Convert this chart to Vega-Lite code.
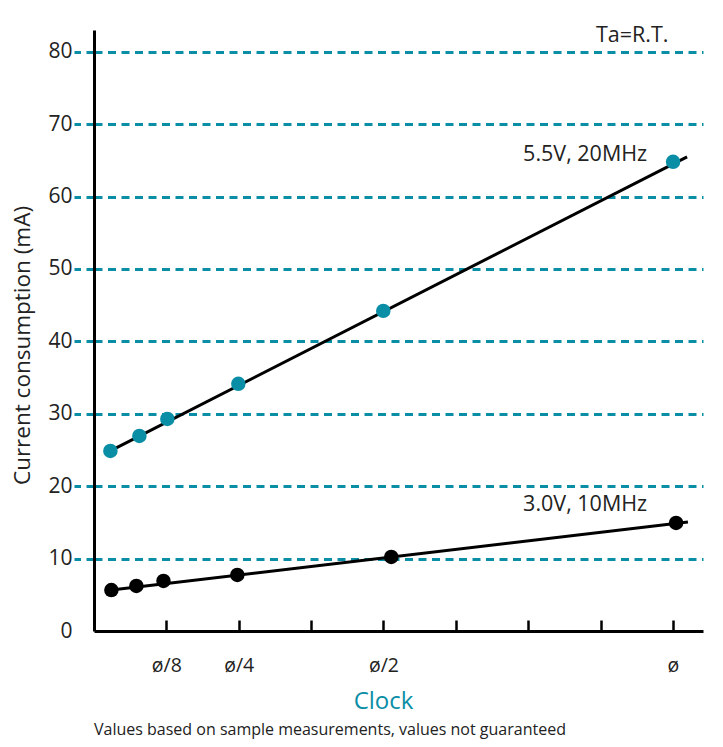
{
  "$schema": "https://vega.github.io/schema/vega-lite/v6.json",
  "width": 609,
  "height": 601,
  "autosize": "none",
  "padding": {"left": 94, "top": 30, "right": 20, "bottom": 116},
  "config": {
    "view": {"stroke": null},
    "font": "Open Sans"
  },
  "title": {
    "text": "Values based on sample measurements, values not guaranteed",
    "orient": "bottom",
    "anchor": "start",
    "frame": "group",
    "font": "Open Sans",
    "fontSize": 16,
    "fontWeight": "normal",
    "color": "#222222",
    "offset": 9
  },
  "datasets": {
    "points": [
      {"series": "5.5V, 20MHz", "clock": 0.0283, "current": 24.87},
      {"series": "5.5V, 20MHz", "clock": 0.0784, "current": 26.94},
      {"series": "5.5V, 20MHz", "clock": 0.1267, "current": 29.29},
      {"series": "5.5V, 20MHz", "clock": 0.2493, "current": 34.13},
      {"series": "5.5V, 20MHz", "clock": 0.4997, "current": 44.21},
      {"series": "5.5V, 20MHz", "clock": 1.0003, "current": 64.8},
      {"series": "3.0V, 10MHz", "clock": 0.030, "current": 5.66},
      {"series": "3.0V, 10MHz", "clock": 0.0732, "current": 6.22},
      {"series": "3.0V, 10MHz", "clock": 0.120, "current": 6.91},
      {"series": "3.0V, 10MHz", "clock": 0.2476, "current": 7.74},
      {"series": "3.0V, 10MHz", "clock": 0.5135, "current": 10.22},
      {"series": "3.0V, 10MHz", "clock": 1.0055, "current": 14.92}
    ],
    "fit": [
      {"series": "5.5V, 20MHz", "clock": 0.0283, "current": 24.87},
      {"series": "5.5V, 20MHz", "clock": 1.0245, "current": 65.49},
      {"series": "3.0V, 10MHz", "clock": 0.030, "current": 5.66},
      {"series": "3.0V, 10MHz", "clock": 1.026, "current": 15.06}
    ],
    "notes": [
      {"label": "Ta=R.T.", "clock": 0.9296, "current": 81.38},
      {"label": "5.5V, 20MHz", "clock": 0.8484, "current": 64.94},
      {"label": "3.0V, 10MHz", "clock": 0.8484, "current": 16.58}
    ]
  },
  "encoding": {
    "x": {
      "field": "clock",
      "type": "quantitative",
      "scale": {"domain": [0, 1.052], "nice": false, "zero": false},
      "axis": {
        "values": [0.125, 0.25, 0.375, 0.5, 0.625, 0.75, 0.875, 1],
        "labelExpr": "datum.value == 0.125 ? 'ø/8' : datum.value == 0.25 ? 'ø/4' : datum.value == 0.5 ? 'ø/2' : datum.value == 1 ? 'ø' : ''",
        "labelOverlap": false,
        "labelFlush": false,
        "domainColor": "#000000",
        "domainWidth": 3,
        "tickColor": "#000000",
        "tickWidth": 2.5,
        "tickSize": -11,
        "grid": false,
        "labelFontSize": 19.5,
        "labelBaseline": "alphabetic",
        "labelPadding": 51,
        "labelColor": "#222222",
        "title": "Clock",
        "titleColor": "#0a8ea6",
        "titleFontSize": 24,
        "titleFontWeight": "normal",
        "titleX": 289,
        "titleY": 77,
        "titleBaseline": "alphabetic"
      }
    },
    "y": {
      "field": "current",
      "type": "quantitative",
      "scale": {"domain": [0, 83], "nice": false},
      "axis": {
        "values": [0, 10, 20, 30, 40, 50, 60, 70, 80],
        "domainColor": "#000000",
        "domainWidth": 3,
        "tickColor": "#0a8ea6",
        "tickWidth": 3,
        "tickSize": 20,
        "tickDash": [8, 5.5],
        "tickOpacity": {"condition": {"test": "datum.value === 0", "value": 0}, "value": 1},
        "grid": true,
        "gridColor": "#0a8ea6",
        "gridWidth": 3,
        "gridDash": [8, 5.5],
        "gridOpacity": {"condition": {"test": "datum.value === 0", "value": 0}, "value": 1},
        "labelFontSize": 21,
        "labelColor": "#222222",
        "labelPadding": 2,
        "title": "Current consumption (mA)",
        "titleFontSize": 22.5,
        "titleFontWeight": "normal",
        "titleColor": "#222222",
        "titleX": -65,
        "titleY": 315,
        "titleBaseline": "alphabetic"
      }
    }
  },
  "layer": [
    {
      "data": {"name": "fit"},
      "mark": {"type": "line", "color": "#000000", "strokeWidth": 3},
      "encoding": {"detail": {"field": "series"}}
    },
    {
      "data": {"name": "points"},
      "mark": {"type": "point", "filled": true, "size": 210, "opacity": 1},
      "encoding": {
        "color": {
          "field": "series",
          "type": "nominal",
          "scale": {"domain": ["5.5V, 20MHz", "3.0V, 10MHz"], "range": ["#0a8ea6", "#000000"]},
          "legend": null
        }
      }
    },
    {
      "data": {"name": "notes"},
      "mark": {"type": "text", "fontSize": 21.5, "align": "center", "baseline": "alphabetic", "color": "#222222"},
      "encoding": {"text": {"field": "label"}}
    }
  ]
}
